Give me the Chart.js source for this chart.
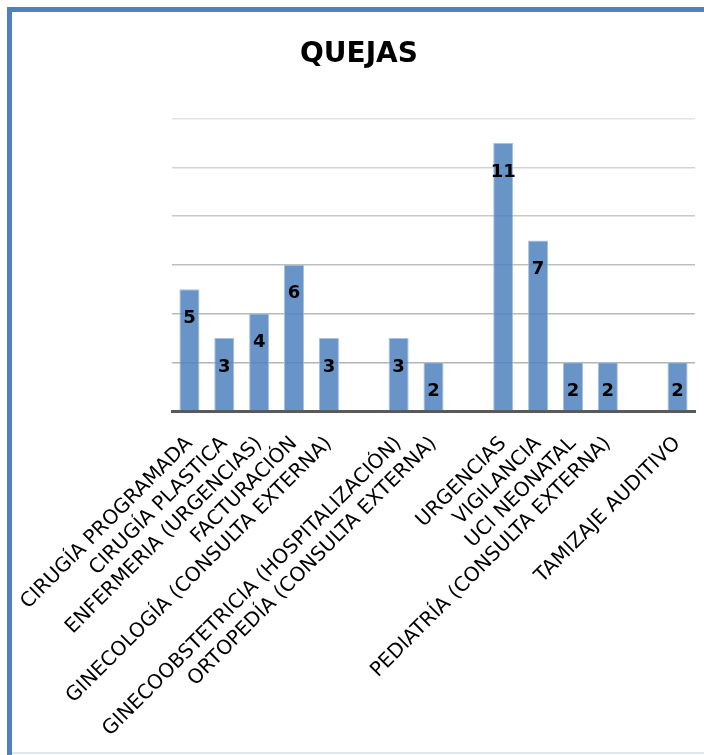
<!DOCTYPE html>
<html>
<head>
<meta charset="utf-8">
<title>Quejas</title>
<script src="https://cdn.jsdelivr.net/npm/chart.js@4.4.0/dist/chart.umd.min.js"></script>
<style>
	html, body { margin: 0; padding: 0; background: #fff; }
	#wrap { width: 704px; height: 755px; position: relative; }
</style>
</head>
<body>
<div id="wrap"><canvas id="quejas-chart"></canvas></div>
<script>
// values (empty slots are gaps in the original)
var categories = [
	'CIRUGÍA PROGRAMADA',
	'CIRUGÍA PLASTICA',
	'ENFERMERIA (URGENCIAS)',
	'FACTURACIÓN',
	'GINECOLOGÍA (CONSULTA EXTERNA)',
	'',
	'GINECOOBSTETRICIA (HOSPITALIZACIÓN)',
	'ORTOPEDÍA (CONSULTA EXTERNA)',
	'',
	'URGENCIAS',
	'VIGILANCIA',
	'UCI NEONATAL',
	'PEDIATRÍA (CONSULTA EXTERNA)',
	'',
	'TAMIZAJE AUDITIVO'
];
var quejas = [5, 3, 4, 6, 3, null, 3, 2, null, 11, 7, 2, 2, null, 2];
var yTicks = [0, 2, 4, 6, 8, 10, 12];

var gridColors = ['rgba(0,0,0,0)', '#b4b4b4', '#b9b9b9', '#bfbfbf', '#c8c8c8', '#d3d3d3', '#e3e3e3'];

// blue frame round the picture
var frame = {
	id: 'frame',
	beforeDraw: function(chart) {
		var ctx = chart.ctx;
		ctx.save();
		ctx.fillStyle = '#4f81bd';
		ctx.fillRect(7, 7, chart.width - 7, 5);
		ctx.fillRect(7, 7, 5, chart.height - 7);
		ctx.fillStyle = '#dde7f1';
		ctx.fillRect(12, chart.height - 3, chart.width - 12, 2);
		ctx.restore();
	}
};

// value labels inside the bars
var barLabels = {
	id: 'barLabels',
	afterDatasetsDraw: function(chart) {
		var ctx = chart.ctx,
				meta = chart.getDatasetMeta(0);
		ctx.save();
		ctx.font = 'bold 18px "DejaVu Sans"';
		ctx.fillStyle = '#000';
		ctx.textAlign = 'center';
		ctx.textBaseline = 'middle';
		meta.data.forEach(function(bar, i) {
			if (quejas[i] == null) return;
			ctx.fillText(quejas[i], bar.x, bar.y + 29);
		});
		ctx.restore();
	}
};

var ctx = document.getElementById('quejas-chart').getContext('2d'),
		quejasChart = new Chart(ctx, {
			type: 'bar',
			data: {
				labels: categories,
				datasets: [{
					data: quejas,
					backgroundColor: 'rgba(79,129,189,0.85)',
					borderColor: '#a9c1de',
					borderWidth: 1,
					barPercentage: 0.9,
					categoryPercentage: 0.64
				}]
			},
			options: {
				responsive: true,
				maintainAspectRatio: false,
				animation: false,
				layout: { padding: { left: 14, right: 0, top: 0, bottom: 0 } },
				plugins: {
					legend: { display: false },
					tooltip: { enabled: false },
					title: {
						display: true,
						text: 'QUEJAS',
						color: '#000',
						font: { family: '"DejaVu Sans"', size: 28, weight: 'bold', lineHeight: 1.2 },
						padding: { top: 38, bottom: 47 }
					}
				},
				scales: {
					x: {
						grid: { display: false },
						border: { display: true, color: '#595959', width: 3 },
						ticks: {
							autoSkip: false,
							maxRotation: 45,
							minRotation: 45,
							padding: 13,
							color: '#000',
							font: { family: '"DejaVu Sans"', size: 20 }
						},
						afterFit: function(scale) {
							scale.height = 344;
							scale.paddingLeft = 0;
							scale.paddingRight = 9;
						}
					},
					y: {
						min: 0,
						max: 12,
						afterBuildTicks: function(scale) {
							scale.ticks = yTicks.map(function(v) { return { value: v }; });
						},
						grid: {
							color: function(c) { return gridColors[c.index] || '#c0c0c0'; },
							lineWidth: 1.5,
							drawTicks: false
						},
						border: { display: false },
						ticks: { display: false },
						afterFit: function(scale) { scale.width = 158; }
					}
				}
			},
			plugins: [frame, barLabels]
		});
</script>
</body>
</html>
